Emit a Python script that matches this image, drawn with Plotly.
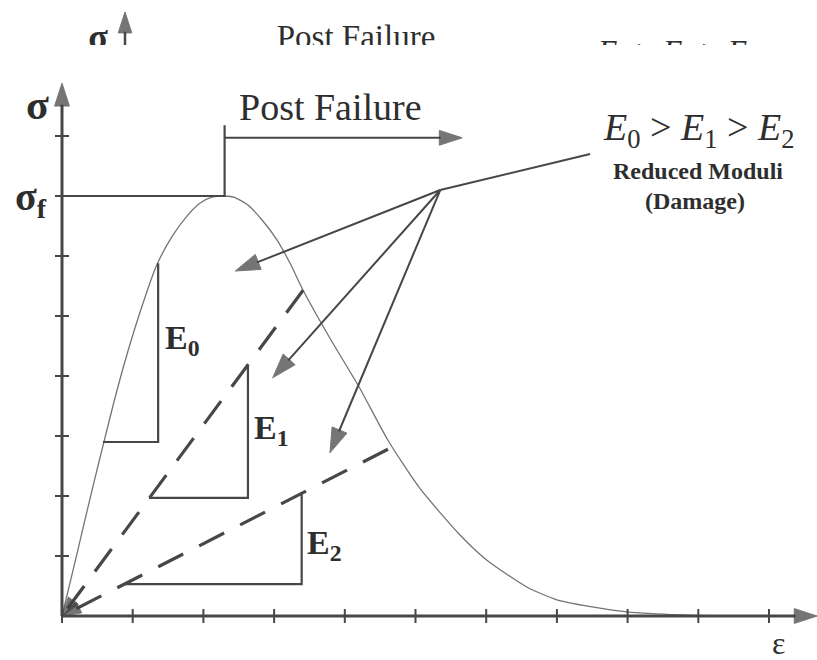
import plotly.graph_objects as go

# ---- stress-strain curve (strain in tick units, stress in tick units) ----
strain = [0.0, 0.16, 0.31, 0.45, 0.58, 0.72, 0.88, 1.10, 1.34, 1.56, 1.77, 1.95,
          2.12, 2.26, 2.43, 2.63, 2.83, 3.04, 3.23, 3.41, 3.79, 4.22, 4.61, 5.06,
          5.63, 6.01, 6.58, 7.00, 7.61, 7.99, 8.74, 9.59]
stress = [0.0, 0.78, 1.53, 2.22, 2.84, 3.50, 4.20, 5.05, 5.85, 6.33, 6.67, 6.88,
          6.98, 7.00, 6.98, 6.85, 6.60, 6.27, 5.87, 5.43, 4.63, 3.78, 2.93, 2.13,
          1.35, 0.93, 0.48, 0.27, 0.13, 0.07, 0.02, 0.0]

sigma_f = 7.0
peak_strain = 2.30
post_failure_end = 5.66
post_failure_level = 7.97
bracket_top = 8.18

x_ticks = [1, 2, 3, 4, 5, 6, 7, 8, 9, 10]
y_ticks = [1, 2, 3, 4, 5, 6, 7, 8]
x_axis_end = 10.68
y_axis_end = 8.88

# secant (damaged) moduli lines: end points on the curve
e1_end = (3.41, 5.43)
e2_end = (4.61, 2.78)

# slope triangles: (x_start, x_end, y_low, y_high)
tri_e0 = (0.58, 1.36, 2.90, 5.88)
tri_e1 = (1.23, 2.63, 1.97, 4.18)
tri_e2 = (0.89, 3.39, 0.53, 2.02)

# callout arrows from a common hub
hub = (5.35, 7.10)
hub_tail = (7.47, 7.70)
hub_targets_x = [2.45, 2.98, 3.79]
hub_targets_y = [5.75, 3.97, 2.72]

INK = "#474747"
HEAD = "#3c3c3c"
TEXT = "#2e2e2e"
SERIF = "Liberation Serif"

fig = go.Figure()


def arrow_line(xs, ys, width, head, **kw):
    """Solid segment drawn from the first point to the last, head at the end."""
    fig.add_trace(go.Scatter(x=xs, y=ys, mode="lines+markers",
                             line=dict(color=INK, width=width),
                             marker=dict(symbol="arrow", size=[0] * (len(xs) - 1) + [head],
                                         color=HEAD, angleref="previous",
                                         line=dict(color=HEAD, width=1)),
                             hoverinfo="skip", showlegend=False, **kw))


# curve
fig.add_trace(go.Scatter(x=strain, y=stress, mode="lines",
                         line=dict(color="#747474", width=1.3, shape="spline", smoothing=0.6),
                         hoverinfo="skip", showlegend=False))

# sigma_f level and post-failure bracket
fig.add_trace(go.Scatter(x=[0, peak_strain, peak_strain], y=[sigma_f, sigma_f, bracket_top],
                         mode="lines", line=dict(color=INK, width=2.2),
                         hoverinfo="skip", showlegend=False))
arrow_line([peak_strain, post_failure_end], [post_failure_level, post_failure_level], 2, 24)

# slope triangles
for (xa, xb, ylo, yhi) in (tri_e0, tri_e1, tri_e2):
    fig.add_trace(go.Scatter(x=[xa, xb, xb], y=[ylo, ylo, yhi], mode="lines",
                             line=dict(color=INK, width=2.2),
                             hoverinfo="skip", showlegend=False))

# dashed secant lines, arrowhead at the origin
for (ex, ey) in (e1_end, e2_end):
    fig.add_trace(go.Scatter(x=[ex, 0], y=[ey, 0], mode="lines",
                             line=dict(color=INK, width=3.2, dash="28px,18px"),
                             hoverinfo="skip", showlegend=False))
    arrow_line([ex * 0.09, 0], [ey * 0.09, 0], 2.5, 20)

# callout arrows
fig.add_trace(go.Scatter(x=[hub[0], hub_tail[0]], y=[hub[1], hub_tail[1]], mode="lines",
                         line=dict(color=INK, width=2), hoverinfo="skip", showlegend=False))
for tx, ty in zip(hub_targets_x, hub_targets_y):
    arrow_line([hub[0], tx], [hub[1], ty], 2, 26)

# axes with arrowheads
arrow_line([0, x_axis_end], [0, 0], 3, 24)
arrow_line([0, 0], [0, y_axis_end], 3, 24)

# tick crosses
fig.add_trace(go.Scatter(x=[0] + x_ticks, y=[0] * (len(x_ticks) + 1), mode="markers",
                         marker=dict(symbol="line-ns", size=10, line=dict(color=INK, width=2)),
                         hoverinfo="skip", showlegend=False))
fig.add_trace(go.Scatter(x=[0] * len(y_ticks), y=y_ticks, mode="markers",
                         marker=dict(symbol="line-ew", size=10, line=dict(color=INK, width=2)),
                         hoverinfo="skip", showlegend=False))

# ---- header strip (clipped copy of the titles) ----
fig.add_trace(go.Scatter(x=[98, 356], y=[-40, -40], mode="text",
                         text=["<b>σ</b>", "Post Failure"],
                         textfont=dict(family=SERIF, size=[36, 33], color=TEXT),
                         xaxis="x2", yaxis="y2", cliponaxis=True,
                         hoverinfo="skip", showlegend=False))
fig.add_trace(go.Scatter(x=[678], y=[-54], mode="text",
                         text=["<i>E</i><sub>0</sub> > <i>E</i><sub>1</sub> > <i>E</i><sub>2</sub>"],
                         textfont=dict(family=SERIF, size=32, color=TEXT),
                         xaxis="x2", yaxis="y2", cliponaxis=True,
                         hoverinfo="skip", showlegend=False))
arrow_line([125, 125], [-60, -12], 2.5, 22, xaxis="x2", yaxis="y2", cliponaxis=True)


def label(text, x, y, size, xanchor="center", yanchor="middle"):
    fig.add_annotation(text=text, x=x, y=y, xref="x", yref="y", showarrow=False,
                       xanchor=xanchor, yanchor=yanchor,
                       font=dict(family=SERIF, size=size, color=TEXT))


label("<b>σ</b>", -0.35, 8.52, 42)
label("<b>σ<sub>f</sub></b>", -0.44, 6.95, 40)
label("Post Failure", 3.80, 8.48, 38)
label("<i>E</i><sub>0</sub> > <i>E</i><sub>1</sub> > <i>E</i><sub>2</sub>", 9.00, 8.10, 38)
label("<b>Reduced Moduli</b>", 9.00, 7.42, 24)
label("<b>(Damage)</b>", 8.95, 6.92, 24)
label("<b>E<sub>0</sub></b>", 1.43, 4.60, 34, xanchor="left")
label("<b>E<sub>1</sub></b>", 2.69, 3.10, 34, xanchor="left")
label("<b>E<sub>2</sub></b>", 3.44, 1.18, 34, xanchor="left")
label("ε", 10.14, -0.45, 32)

fig.update_layout(
    width=817, height=660,
    margin=dict(l=0, r=0, t=0, b=0),
    paper_bgcolor="white", plot_bgcolor="rgba(0,0,0,0)",
    showlegend=False,
    xaxis=dict(domain=[0, 1], range=[-0.877, 10.679], visible=False, fixedrange=True),
    yaxis=dict(domain=[0, 1], range=[-0.733, 10.267], visible=False, fixedrange=True),
    xaxis2=dict(domain=[0, 1], range=[0, 817], visible=False, anchor="y2"),
    yaxis2=dict(domain=[1 - 45 / 660, 1], range=[-45, 0], visible=False, anchor="x2"),
)

fig.write_html("out.html")
